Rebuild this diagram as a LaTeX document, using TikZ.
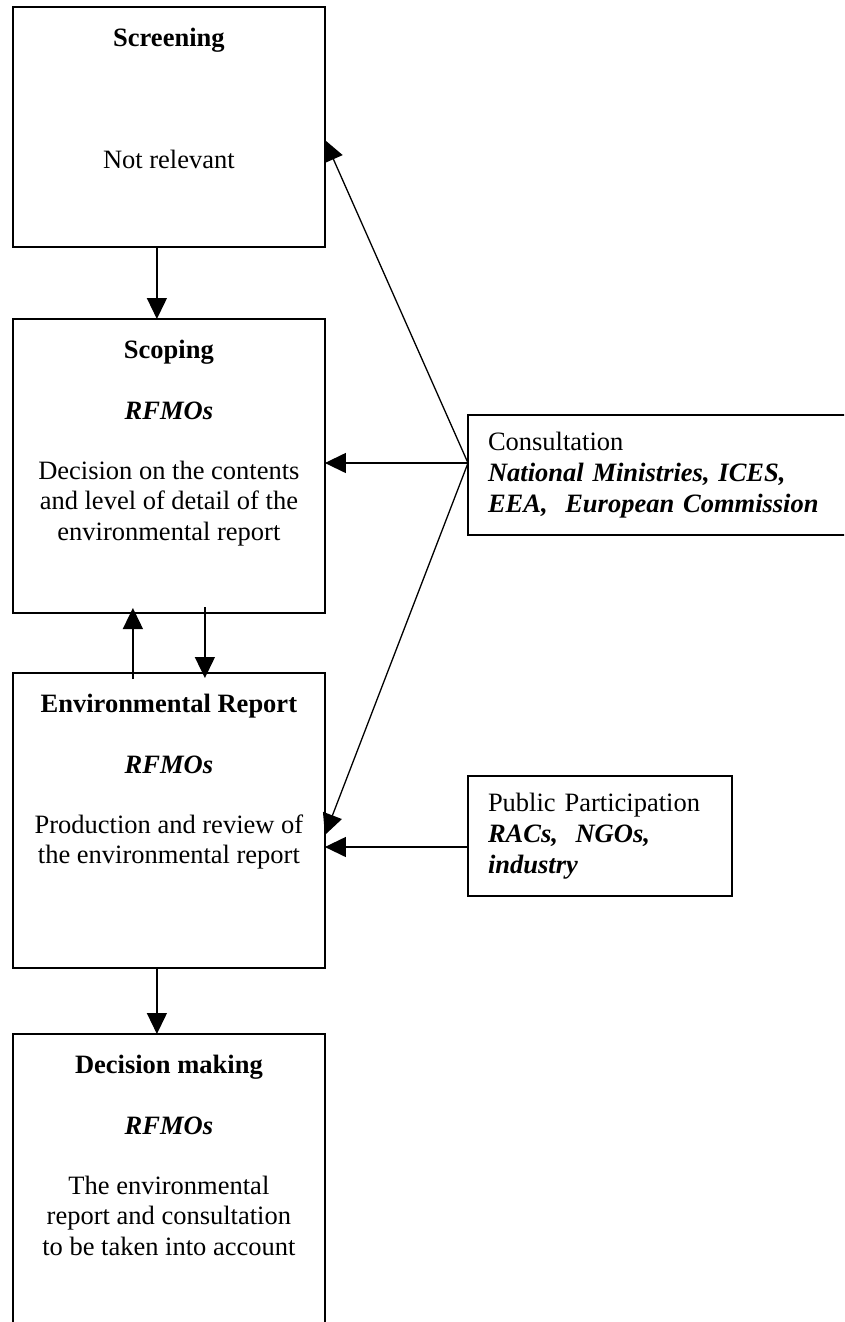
\documentclass[tikz,border=0pt]{standalone}
\usepackage{fontspec}
\setmainfont{Liberation Serif}
\usetikzlibrary{arrows.meta}

\begin{document}
\begin{tikzpicture}[x=1pt,y=-1pt,>={Triangle[length=21pt,width=20pt]}]

\tikzstyle{stage} = [rectangle,draw=black,line width=1.8pt,minimum width=312pt,inner sep=0pt,outer sep=0pt];
\tikzstyle{dummy} = [inner sep=0pt,outer sep=0pt,align=center,anchor=north,font=\fontsize{26.5}{30.5}\selectfont];
\tikzstyle{side} = [rectangle,draw=black,line width=1.8pt,minimum height=120pt,inner ysep=0pt,inner xsep=20pt,outer sep=0pt,align=left,anchor=north west,font=\fontsize{26.5}{31}\selectfont];
\tikzstyle{conn} = [line width=1.3pt];

\useasboundingbox (0,0) rectangle (844,1322);
\clip (0,0) rectangle (844,1322);

% stages
\node[stage,minimum height=240pt] at (168.9,127) (scr) {};
\node[dummy] at ([yshift=-21pt]scr.north) (scrtxt) {\textbf{Screening}\\[92pt]Not relevant};

\node[stage,minimum height=294pt] at (168.9,466) (scop) {};
\node[dummy] at ([yshift=-21pt]scop.north) (scoptxt) {\textbf{Scoping}\\[31pt]\textbf{\textit{RFMOs}}\\[29pt]Decision on the contents\\and level of detail of the\\environmental report};

\node[stage,minimum height=295pt] at (168.9,820.5) (env) {};
\node[dummy] at ([yshift=-21pt]env.north) (envtxt) {\textbf{Environmental Report}\\[31pt]\textbf{\textit{RFMOs}}\\[29pt]Production and review of\\the environmental report};

\node[stage,minimum height=310pt] at (168.9,1189) (dec) {};
\node[dummy] at ([yshift=-21pt]dec.north) (dectxt) {\textbf{Decision making}\\[31pt]\textbf{\textit{RFMOs}}\\[29pt]The environmental\\report and consultation\\to be taken into account};

% consultation and public
\node[side,minimum width=382pt,text width=342pt] at (468,415) (cons) {Consultation\\\textbf{\textit{National Ministries, ICES,}}\\\textbf{\textit{EEA,\ \ European Commission}}};
\node[side,minimum width=264pt,text width=224pt] at (468,776) (pp) {Public Participation\\\textbf{\textit{RACs,\ \ NGOs,}}\\\textbf{\textit{industry}}};

\coordinate (fork) at ([yshift=12pt]cons.west);
\coordinate (ppout) at ([yshift=-11pt]pp.west);

\path ([xshift=-12pt]scr.south) edge[->,conn] ([xshift=-12pt]scop.north);
\path ([xshift=-36pt,yshift=-6pt]env.north) edge[->,conn] ([xshift=-36pt,yshift=5pt]scop.south);
\path ([xshift=36pt,yshift=6pt]scop.south) edge[->,conn] ([xshift=36pt,yshift=-5pt]env.north);
\path ([xshift=-12pt]env.south) edge[->,conn] ([xshift=-12pt]dec.north);

\path (fork) edge[->,conn] ([yshift=-13pt]scr.east);
\path (fork) edge[->,conn] (scop.east |- fork);
\path (fork) edge[->,conn] ([yshift=-14.5pt]env.east);
\path (ppout) edge[->,conn] (env.east |- ppout);

\end{tikzpicture}
\end{document}
